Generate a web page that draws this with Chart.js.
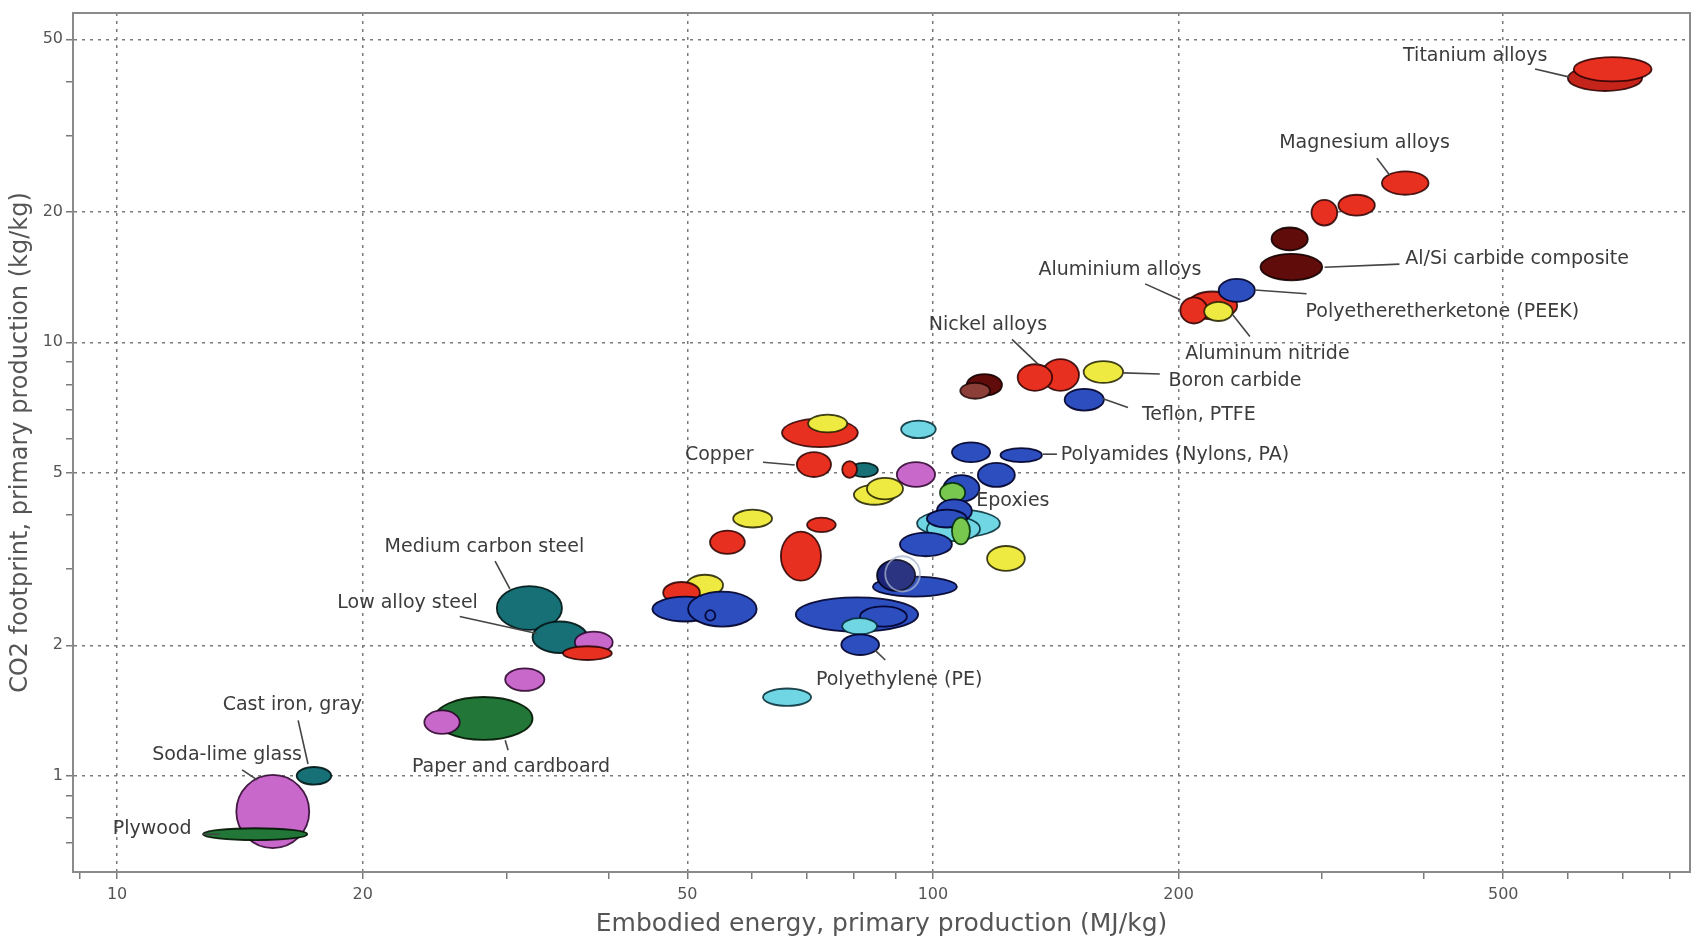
<!DOCTYPE html>
<html>
<head>
<meta charset="utf-8">
<title>CO2 footprint vs embodied energy</title>
<script src="https://cdn.jsdelivr.net/npm/chart.js@4.4.1/dist/chart.umd.min.js"></script>
<style>
  html, body { margin: 0; padding: 0; background: #fff; }
  #wrap { width: 1700px; height: 945px; }
</style>
</head>
<body>
<div id="wrap"><canvas id="bubble-chart"></canvas></div>
<script>
// axis ranges and ticks (log-log)
const xRange = [8.83, 847];
const yRange = [0.63, 57.5];
const xTickValues = [9, 10, 20, 30, 40, 50, 60, 70, 80, 90, 100, 200, 300, 400, 500, 600, 700, 800];
const xTickLabels = [10, 20, 50, 100, 200, 500];
const yTickValues = [0.7, 0.8, 0.9, 1, 2, 3, 4, 5, 6, 7, 8, 9, 10, 20, 30, 40, 50];
const yTickLabels = [1, 2, 5, 10, 20, 50];

// material envelopes: [energy low, energy high, CO2 low, CO2 high, family] in drawing order
const envelopes = [
  [14.0, 17.2, 0.681, 1.005, 'P'],
  [12.75, 17.1, 0.711, 0.757, 'G'],
  [16.6, 18.3, 0.954, 1.048, 'T'],
  [24.5, 32.3, 1.21, 1.52, 'G'],
  [23.8, 26.3, 1.25, 1.415, 'P'],
  [29.9, 33.4, 1.57, 1.77, 'P'],
  [29.2, 35.1, 2.17, 2.74, 'T'],
  [32.3, 37.7, 1.92, 2.27, 'T'],
  [36.4, 40.5, 1.92, 2.15, 'P'],
  [35.2, 40.4, 1.85, 1.99, 'R'],

  [49.9, 55.3, 2.6, 2.91, 'Y'],
  [46.7, 51.8, 2.5, 2.8, 'R'],
  [45.3, 54.5, 2.27, 2.59, 'B'],
  [50.1, 60.8, 2.21, 2.66, 'B'],
  [52.6, 54.1, 2.28, 2.41, 'B'],
  [53.3, 58.8, 3.25, 3.68, 'R'],
  [56.9, 63.5, 3.74, 4.11, 'Y'],
  [65.1, 72.9, 2.82, 3.66, 'R'],
  [70.1, 76.0, 3.65, 3.94, 'R'],
  [61.9, 70.9, 1.45, 1.59, 'C'],

  [67.9, 95.9, 2.15, 2.58, 'B'],
  [81.4, 92.9, 2.21, 2.46, 'B'],
  [77.4, 85.4, 2.12, 2.31, 'C'],
  [77.2, 85.9, 1.90, 2.12, 'B'],
  [84.4, 107, 2.59, 2.88, 'B'],
  [85.4, 95.1, 2.67, 3.15, 'N'],
  [87.4, 96.4, 2.66, 3.21, 'W'],

  [65.3, 80.9, 5.73, 6.67, 'R'],
  [70.3, 78.5, 6.2, 6.81, 'Y'],
  [68.1, 75.0, 4.89, 5.58, 'R'],
  [79.1, 85.6, 4.89, 5.27, 'T'],
  [77.4, 80.7, 4.87, 5.32, 'R'],
  [80.0, 89.8, 4.22, 4.69, 'Y'],
  [83.0, 91.9, 4.34, 4.87, 'Y'],
  [91.4, 100.8, 6.01, 6.60, 'C'],
  [90.3, 100.6, 4.64, 5.29, 'P'],

  [113.5, 126, 4.64, 5.27, 'B'],
  [103, 114, 4.29, 4.94, 'B'],
  [102, 109.5, 4.27, 4.74, 'L'],
  [95.6, 120.8, 3.55, 4.11, 'C'],
  [98.3, 114.2, 3.48, 3.96, 'C'],
  [101.1, 111.6, 3.84, 4.34, 'B'],
  [98.3, 110, 3.74, 4.11, 'B'],
  [105.5, 111, 3.42, 3.94, 'L'],
  [91.1, 105.5, 3.21, 3.64, 'B'],
  [116.5, 129.6, 2.97, 3.39, 'Y'],
  [105.5, 117.5, 5.29, 5.88, 'B'],
  [121, 136, 5.29, 5.70, 'B'],

  [110, 121.5, 7.53, 8.45, 'D'],
  [108, 117.5, 7.41, 8.06, 'K'],
  [136, 151, 7.73, 9.15, 'R'],
  [127, 140, 7.73, 8.9, 'R'],
  [153, 171, 8.06, 9.05, 'Y'],
  [145, 162, 6.96, 7.81, 'B'],

  [205, 236, 11.3, 13.1, 'R'],
  [201, 217, 11.05, 12.7, 'R'],
  [224, 248, 12.4, 14.0, 'B'],
  [215, 233, 11.2, 12.4, 'Y'],
  [252, 300, 13.9, 16.0, 'D'],
  [260, 288, 16.3, 18.4, 'D'],
  [291, 313, 18.6, 21.3, 'R'],
  [314, 348, 19.6, 21.9, 'R'],
  [355, 405, 21.9, 24.8, 'R'],
  [600, 740, 38, 43.5, 'S'],
  [610, 760, 40, 45.5, 'R'],
];

// callouts: text centre and leader line, in data units
const callouts = [
  { text: 'Titanium alloys', at: [462, 45.7], line: [547, 42.7, 603, 40.9] },
  { text: 'Magnesium alloys', at: [338, 28.8], line: [350, 26.6, 363, 24.3] },
  { text: 'Al/Si carbide composite', at: [520, 15.56], line: [302, 14.9, 373, 15.15] },
  { text: 'Polyetheretherketone (PEEK)', at: [421, 11.77], line: [248, 13.2, 287, 12.94] },
  { text: 'Aluminium alloys', at: [169.5, 14.68], line: [182, 13.64, 201, 12.54] },
  { text: 'Aluminum nitride', at: [257, 9.39], line: [233, 11.58, 244.6, 10.32] },
  { text: 'Boron carbide', at: [234.5, 8.15], line: [171, 8.5, 189.7, 8.45] },
  { text: 'Teflon, PTFE', at: [211.8, 6.78], line: [161.6, 7.41, 173.4, 7.07] },
  { text: 'Polyamides (Nylons, PA)', at: [198, 5.49], line: [136.4, 5.52, 141.9, 5.52] },
  { text: 'Nickel alloys', at: [116.8, 10.94], line: [125, 10.16, 134.5, 8.91] },
  { text: 'Copper', at: [54.7, 5.49], line: [61.9, 5.29, 67.7, 5.21] },
  { text: 'Epoxies', at: [125.3, 4.31], line: null },
  { text: 'Polyethylene (PE)', at: [90.9, 1.665], line: [84.9, 1.95, 87.4, 1.85] },
  { text: 'Medium carbon steel', at: [28.2, 3.37], line: [29.06, 3.13, 30.3, 2.70] },
  { text: 'Low alloy steel', at: [22.7, 2.50], line: [26.3, 2.33, 32.7, 2.13] },
  { text: 'Paper and cardboard', at: [30.4, 1.048], line: [29.9, 1.208, 30.15, 1.146] },
  { text: 'Cast iron, gray', at: [16.4, 1.453], line: [16.67, 1.342, 17.14, 1.065] },
  { text: 'Soda-lime glass', at: [13.64, 1.117], line: [14.23, 1.032, 14.85, 0.979] },
  { text: 'Plywood', at: [11.04, 0.753], line: [12.72, 0.733, 13.37, 0.733] },
];

const familyStyles = {
  R: { fill: 'rgb(232,48,32)', stroke: 'rgba(40,0,0,0.85)' },
  S: { fill: 'rgb(196,36,26)', stroke: 'rgba(40,0,0,0.85)' },
  Y: { fill: 'rgb(238,234,66)', stroke: 'rgba(30,30,0,0.85)' },
  B: { fill: 'rgb(44,78,190)', stroke: 'rgba(0,0,40,0.9)' },
  C: { fill: 'rgb(112,214,228)', stroke: 'rgba(0,40,50,0.85)' },
  T: { fill: 'rgb(22,112,118)', stroke: 'rgba(0,20,20,0.9)' },
  P: { fill: 'rgb(200,104,202)', stroke: 'rgba(40,0,40,0.85)' },
  G: { fill: 'rgb(34,118,56)', stroke: 'rgba(0,20,0,0.9)' },
  L: { fill: 'rgb(120,200,80)', stroke: 'rgba(0,40,0,0.85)' },
  D: { fill: 'rgb(95,12,10)', stroke: 'rgba(20,0,0,0.9)' },
  K: { fill: 'rgb(140,62,56)', stroke: 'rgba(20,0,0,0.8)' },
  N: { fill: 'rgb(28,36,120)', stroke: 'rgba(0,0,20,0.9)' },
  W: { fill: 'rgba(230,236,245,0.08)', stroke: 'rgba(170,182,205,0.75)' },
};

const FONT = 'DejaVu Sans';
Chart.defaults.font.family = FONT;

function ellipseBox(x, y, env) {
  const x1 = x.getPixelForValue(env[0]), x2 = x.getPixelForValue(env[1]);
  const y1 = y.getPixelForValue(env[2]), y2 = y.getPixelForValue(env[3]);
  return { cx: (x1 + x2) / 2, cy: (y1 + y2) / 2, rx: Math.abs(x2 - x1) / 2, ry: Math.abs(y2 - y1) / 2 };
}

const envelopePlugin = {
  id: 'envelopes',
  beforeDatasetsDraw(chart) {
    const { ctx, chartArea, scales: { x, y } } = chart;
    ctx.save();
    ctx.beginPath();
    ctx.rect(chartArea.left, chartArea.top, chartArea.width, chartArea.height);
    ctx.clip();
    for (const env of envelopes) {
      const b = ellipseBox(x, y, env);
      const style = familyStyles[env[4]];
      ctx.beginPath();
      ctx.ellipse(b.cx, b.cy, b.rx, b.ry, 0, 0, Math.PI * 2);
      ctx.fillStyle = style.fill;
      ctx.fill();
      ctx.lineWidth = 1.8;
      ctx.strokeStyle = style.stroke;
      ctx.stroke();
    }
    ctx.restore();
  },
  afterDatasetsDraw(chart) {
    const { ctx, chartArea, scales: { x, y } } = chart;
    ctx.save();
    // frame round the plot
    ctx.strokeStyle = '#8a8a8a';
    ctx.lineWidth = 2;
    ctx.strokeRect(chartArea.left, chartArea.top, chartArea.width, chartArea.height);

    ctx.strokeStyle = '#444';
    ctx.lineWidth = 1.6;
    ctx.fillStyle = '#3c3c3c';
    ctx.font = `19px "${FONT}"`;
    ctx.textAlign = 'center';
    ctx.textBaseline = 'middle';
    for (const c of callouts) {
      if (c.line) {
        ctx.beginPath();
        ctx.moveTo(x.getPixelForValue(c.line[0]), y.getPixelForValue(c.line[1]));
        ctx.lineTo(x.getPixelForValue(c.line[2]), y.getPixelForValue(c.line[3]));
        ctx.stroke();
      }
      ctx.fillText(c.text, x.getPixelForValue(c.at[0]), y.getPixelForValue(c.at[1]));
    }
    ctx.restore();
  },
};

function buildChart() {
  const ctx = document.getElementById('bubble-chart').getContext('2d');
  const centres = envelopes.map((e) => ({ x: Math.sqrt(e[0] * e[1]), y: Math.sqrt(e[2] * e[3]) }));

  new Chart(ctx, {
    type: 'scatter',
    data: {
      datasets: [{ label: 'Materials', data: centres, pointRadius: 0, pointHoverRadius: 0 }],
    },
    options: {
      responsive: true,
      maintainAspectRatio: false,
      animation: false,
      layout: { padding: { top: 13, right: 10, left: 0, bottom: 0 } },
      plugins: {
        legend: { display: false },
        tooltip: { enabled: false },
      },
      scales: {
        x: {
          type: 'logarithmic',
          min: xRange[0],
          max: xRange[1],
          afterBuildTicks: (s) => { s.ticks = xTickValues.map((v) => ({ value: v })); },
          afterFit: (s) => { s.height = 73; },
          ticks: {
            autoSkip: false, maxRotation: 0, padding: 6, color: '#555',
            font: { size: 16 },
            callback: (v) => (xTickLabels.includes(v) ? String(v) : ''),
          },
          grid: {
            color: (c) => (c.tick && xTickLabels.includes(c.tick.value) ? '#7a7a7a' : 'transparent'),
            lineWidth: 1.5, tickColor: '#7a7a7a', tickLength: 7, tickWidth: 1.5,
          },
          border: { display: true, color: '#8a8a8a', width: 2, dash: [3, 5] },
          title: {
            display: true, text: 'Embodied energy, primary production (MJ/kg)',
            color: '#555', font: { size: 25 }, padding: { top: 0, bottom: 6 },
          },
        },
        y: {
          type: 'logarithmic',
          min: yRange[0],
          max: yRange[1],
          afterBuildTicks: (s) => { s.ticks = yTickValues.map((v) => ({ value: v })); },
          afterFit: (s) => { s.width = 73; },
          ticks: {
            autoSkip: false, padding: 3, color: '#555',
            font: { size: 16 },
            callback: (v) => (yTickLabels.includes(v) ? String(v) : ''),
          },
          grid: {
            color: (c) => (c.tick && yTickLabels.includes(c.tick.value) ? '#7a7a7a' : 'transparent'),
            lineWidth: 1.5, tickColor: '#7a7a7a', tickLength: 7, tickWidth: 1.5,
          },
          border: { display: true, color: '#8a8a8a', width: 2, dash: [3, 5] },
          title: {
            display: true, text: 'CO2 footprint, primary production (kg/kg)',
            color: '#555', font: { size: 24 }, padding: { top: 6, bottom: 0 },
          },
        },
      },
    },
    plugins: [envelopePlugin],
  });
}

buildChart();
</script>
</body>
</html>
